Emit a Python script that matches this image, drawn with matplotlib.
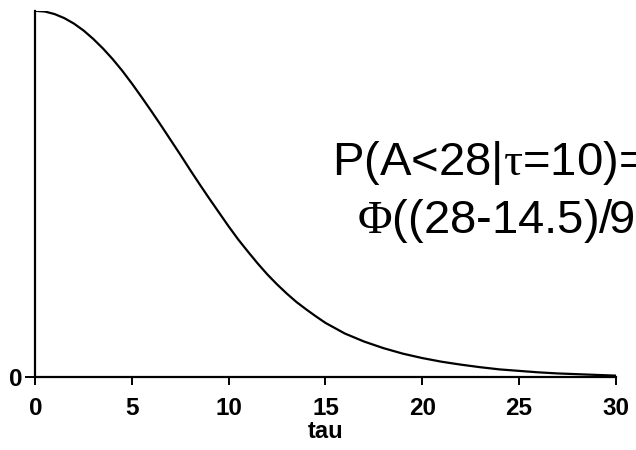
import numpy as np
import matplotlib.pyplot as plt

plt.rcParams["font.family"] = ["Liberation Sans", "DejaVu Sans"]
plt.rcParams["mathtext.fontset"] = "custom"
plt.rcParams["mathtext.rm"] = "Liberation Serif"
plt.rcParams["mathtext.it"] = "Liberation Serif:italic"

# curve (relative density vs tau)
tau = [0, 0.5, 1, 1.5, 2, 2.5, 3, 3.5, 4, 4.5, 5, 5.5, 6, 6.5, 7, 7.5,
       8, 8.5, 9, 9.5, 10, 10.5, 11, 11.5, 12, 12.5, 13, 13.5, 14, 14.5,
       15, 16, 17, 18, 19, 20, 21, 22, 23, 24, 25, 26, 27, 28, 29, 30]
dens = [1.0, 0.998, 0.991, 0.980, 0.965, 0.946, 0.923, 0.897, 0.868, 0.836,
        0.801, 0.764, 0.726, 0.687, 0.647, 0.607, 0.566, 0.526, 0.487, 0.449,
        0.411, 0.375, 0.342, 0.310, 0.280, 0.253, 0.228, 0.205, 0.185, 0.166,
        0.148, 0.119, 0.097, 0.079, 0.064, 0.052, 0.042, 0.034, 0.027, 0.021,
        0.017, 0.013, 0.010, 0.008, 0.006, 0.004]
xticks = [0, 5, 10, 15, 20, 25, 30]

fig = plt.figure(figsize=(6.36, 4.5), dpi=100)
ax = fig.add_axes([0.0555, 0.162, 0.9125, 0.814])

ax.plot(tau, dens, color="black", lw=1.6)
ax.set_xlim(0, 30)
ax.set_ylim(0, 1.0)

for s in ["top", "right"]:
    ax.spines[s].set_visible(False)
for s in ["left", "bottom"]:
    ax.spines[s].set_linewidth(1.6)

ax.set_xticks(xticks)
ax.set_xticklabels([str(t) for t in xticks], fontsize=17.5, fontweight="bold")
ax.set_yticks([0])
ax.set_yticklabels(["0"], fontsize=17.5, fontweight="bold")
ax.tick_params(axis="x", length=6, width=1.4, direction="out", pad=8)
ax.tick_params(axis="y", length=7, width=1.4, direction="out", pad=2)
ax.set_xlabel("tau", fontsize=17, fontweight="bold", labelpad=0)

fig.text(332 / 636, 1 - 175 / 450, r"P(A<28|$\mathrm{\tau}$=10)=", fontsize=34,
         ha="left", va="baseline")
fig.text(357 / 636, 1 - 233 / 450, r"$\mathrm{\Phi}$((28-14.5)/9", fontsize=34,
         ha="left", va="baseline")

fig.savefig("out.png", dpi=100)
